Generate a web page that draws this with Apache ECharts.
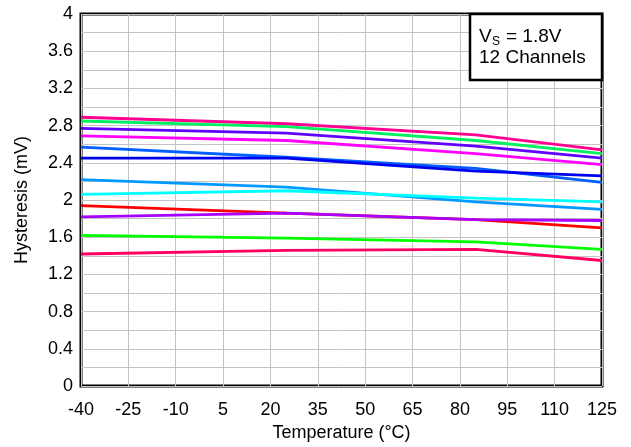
<!DOCTYPE html>
<html>
<head>
<meta charset="utf-8">
<title>Hysteresis vs Temperature</title>
<script src="https://cdn.jsdelivr.net/npm/echarts@6/dist/echarts.min.js"></script>
<style>
  html, body { margin: 0; padding: 0; background: #fff; }
  #chart { width: 631px; height: 447px; }
</style>
</head>
<body>
<div id="chart"></div>
<script>
// temperature points (°C) where each channel was measured
var temps = [-40, 25, 85, 125];

// hysteresis (mV), one array per channel
var ch1  = [2.89, 2.82, 2.70, 2.54];
var ch2  = [2.85, 2.79, 2.64, 2.50];
var ch3  = [2.77, 2.72, 2.58, 2.45];
var ch4  = [2.69, 2.64, 2.50, 2.38];
var ch5  = [2.57, 2.46, 2.34, 2.19];
var ch6  = [2.45, 2.45, 2.31, 2.26];
var ch7  = [2.22, 2.14, 1.98, 1.90];
var ch8  = [2.06, 2.10, 2.02, 1.98];
var ch9  = [1.94, 1.86, 1.79, 1.70];
var ch10 = [1.82, 1.86, 1.79, 1.78];
var ch11 = [1.62, 1.59, 1.55, 1.47];
var ch12 = [1.42, 1.46, 1.47, 1.35];

var channels = [ch1, ch2, ch3, ch4, ch5, ch6, ch7, ch8, ch9, ch10, ch11, ch12];
var colors = ['#ff0090', '#00f060', '#6000ff', '#ff00ff', '#0060ff', '#0000f0',
              '#0099ff', '#00ffff', '#ff0000', '#a800ff', '#00ff00', '#ff0060'];

var xTicks = [-40, -25, -10, 5, 20, 35, 50, 65, 80, 95, 110, 125];
var yTicks = [0, 0.4, 0.8, 1.2, 1.6, 2, 2.4, 2.8, 3.2, 3.6, 4];

var FONT = 'Liberation Sans, Arial, sans-serif';

var myChart = echarts.init(document.getElementById('chart'), null, { renderer: 'canvas' });

var series = channels.map(function (vals, i) {
  return {
    name: 'Ch' + (i + 1),
    type: 'line',
    data: temps.map(function (t, j) { return [t, vals[j]]; }),
    symbol: 'none',
    lineStyle: { color: colors[i], width: 2.8 },
    itemStyle: { color: colors[i] },
    z: 3
  };
});

myChart.setOption({
  animation: false,
  grid: {
    left: 81, top: 14, width: 521, height: 375,
    show: true, borderColor: '#000', borderWidth: 3,
    backgroundColor: 'transparent'
  },
  xAxis: {
    type: 'value',
    min: xTicks[0], max: xTicks[xTicks.length - 1], interval: 15,
    name: 'Temperature (°C)',
    nameLocation: 'middle', nameGap: 35,
    nameTextStyle: { fontFamily: FONT, fontSize: 18, color: '#000' },
    axisLine: { show: false },
    axisTick: { show: false },
    axisLabel: { fontFamily: FONT, fontSize: 18, color: '#000', margin: 15 },
    splitLine: { show: true, lineStyle: { color: '#c4c4c4', width: 1 } }
  },
  yAxis: {
    type: 'value',
    min: 0, max: 4, interval: 0.2,
    name: 'Hysteresis (mV)',
    nameLocation: 'middle', nameGap: 50,
    nameTextStyle: { fontFamily: FONT, fontSize: 18, color: '#000' },
    axisLine: { show: false },
    axisTick: { show: false },
    axisLabel: {
      fontFamily: FONT, fontSize: 18, color: '#000', margin: 8,
      formatter: function (v) {
        // only every other grid line gets a label
        var k = Math.round(v * 10);
        return k % 4 === 0 ? String(yTicks[k / 4]) : '';
      }
    },
    splitLine: { show: true, lineStyle: { color: '#c4c4c4', width: 1 } }
  },
  graphic: [
    {
      type: 'rect',
      shape: { x: 470, y: 14, width: 132, height: 66 },
      style: { fill: '#fff', stroke: '#000', lineWidth: 2.5 },
      z: 10
    },
    {
      type: 'text', x: 479, y: 37, z: 11,
      style: { text: 'V', font: '19px ' + FONT, fill: '#000', textVerticalAlign: 'middle' }
    },
    {
      type: 'text', x: 492, y: 42, z: 11,
      style: { text: 'S', font: '12px ' + FONT, fill: '#000', textVerticalAlign: 'middle' }
    },
    {
      type: 'text', x: 506, y: 37, z: 11,
      style: { text: '= 1.8V', font: '19px ' + FONT, fill: '#000', textVerticalAlign: 'middle' }
    },
    {
      type: 'text', x: 479, y: 58, z: 11,
      style: { text: '12 Channels', font: '19px ' + FONT, fill: '#000', textVerticalAlign: 'middle' }
    }
  ],
  series: series
});
</script>
</body>
</html>
